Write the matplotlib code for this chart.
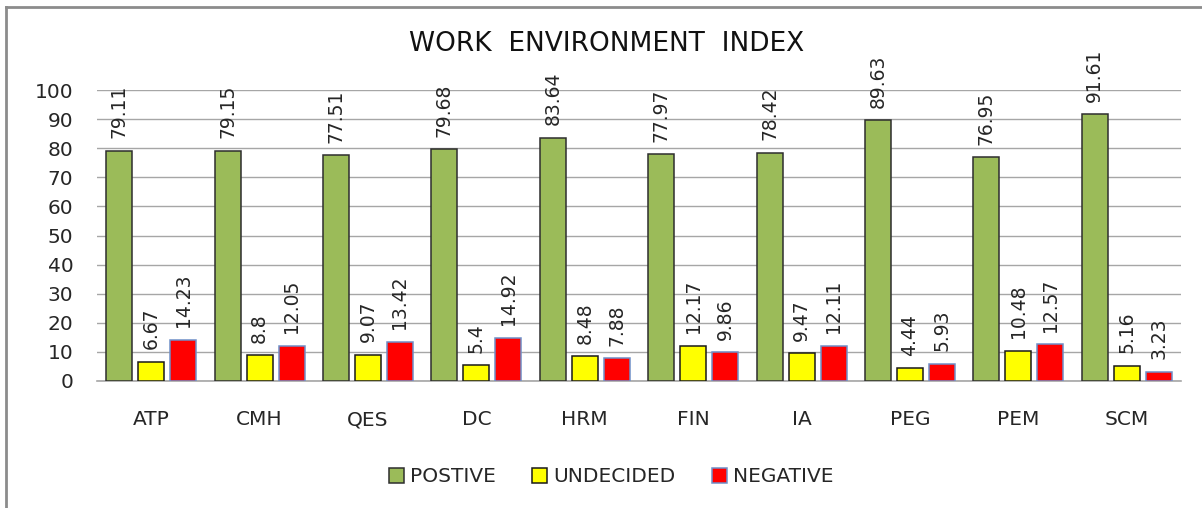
import numpy as np
import matplotlib.pyplot as plt
from matplotlib import font_manager
from matplotlib.lines import Line2D
from matplotlib.patches import Patch

# --- data ---
CATEGORIES = ['ATP', 'CMH', 'QES', 'DC', 'HRM', 'FIN', 'IA', 'PEG', 'PEM', 'SCM']
POSITIVE = [79.11, 79.15, 77.51, 79.68, 83.64, 77.97, 78.42, 89.63, 76.95, 91.61]
UNDECIDED = [6.67, 8.8, 9.07, 5.4, 8.48, 12.17, 9.47, 4.44, 10.48, 5.16]
NEGATIVE = [14.23, 12.05, 13.42, 14.92, 7.88, 9.86, 12.11, 5.93, 12.57, 3.23]
SERIES_NAMES = ['POSTIVE', 'UNDECIDED', 'NEGATIVE']
Y_TICKS = [0, 10, 20, 30, 40, 50, 60, 70, 80, 90, 100]

# --- style ---
FACE = ['#9BBB59', '#FFFF00', '#FF0000']
EDGE = ['#2E2E2E', '#1A1A1A', '#6F8FC8']
TEXT = '#262626'
GRID = '#A6A6A6'
BAR_W = 0.24
STEP = 0.295

plt.rcParams['font.family'] = ['DejaVu Sans']

# data labels look narrow and tall in the reference -> use a narrow face if present
try:
    font_manager.findfont('Liberation Sans Narrow', fallback_to_default=False)
    LABEL_FONT = dict(family='Liberation Sans Narrow', fontsize=17)
except ValueError:
    LABEL_FONT = dict(family='DejaVu Sans', fontsize=13.5)

fig = plt.figure(figsize=(12.02, 5.08), dpi=100)
ax = fig.add_axes([97 / 1202, 1 - 381 / 508, (1181 - 97) / 1202, (381 - 90) / 508])

x = np.arange(len(CATEGORIES))
values = [POSITIVE, UNDECIDED, NEGATIVE]
for k, vals in enumerate(values):
    bars = ax.bar(x + (k - 1) * STEP, vals, width=BAR_W, color=FACE[k],
                  edgecolor=EDGE[k], linewidth=1.1, zorder=3)
    ax.bar_label(bars, labels=[f'{v:g}' for v in vals], rotation=90,
                 padding=9, color=TEXT, **LABEL_FONT)

ax.set_xlim(-0.5, len(CATEGORIES) - 0.5)
ax.set_ylim(0, 100)
ax.set_yticks(Y_TICKS)
ax.set_xticks(x)
ax.set_xticklabels(CATEGORIES)
ax.tick_params(axis='both', length=0, labelsize=14.5, labelcolor=TEXT)
ax.tick_params(axis='y', pad=17)
ax.tick_params(axis='x', pad=21)
ax.grid(axis='y', color=GRID, linewidth=1.0, zorder=0)
for side in ['top', 'right', 'left']:
    ax.spines[side].set_visible(False)
ax.spines['bottom'].set_color(GRID)
ax.spines['bottom'].set_linewidth(1.2)

fig.text(607 / 1202, 1 - 44 / 508, 'WORK  ENVIRONMENT  INDEX', ha='center',
         va='center', fontsize=19, color='#111111')

handles = [Patch(facecolor=FACE[k], edgecolor=EDGE[k], linewidth=1.1)
           for k in range(3)]
fig.legend(handles, SERIES_NAMES, loc='center', bbox_to_anchor=(611 / 1202, 1 - 477 / 508),
           ncol=3, frameon=False, fontsize=14.5, handlelength=0.75, handleheight=0.75,
           handletextpad=0.3, columnspacing=1.8, labelcolor=TEXT)

# outer chart border (top and left visible in the reference)
fig.add_artist(Line2D([6 / 1202, 6 / 1202], [0, 1 - 7 / 508], color='#8C8C8C', linewidth=2))
fig.add_artist(Line2D([6 / 1202, 1], [1 - 7 / 508, 1 - 7 / 508], color='#8C8C8C', linewidth=2))

fig.savefig('out.png', dpi=100)
